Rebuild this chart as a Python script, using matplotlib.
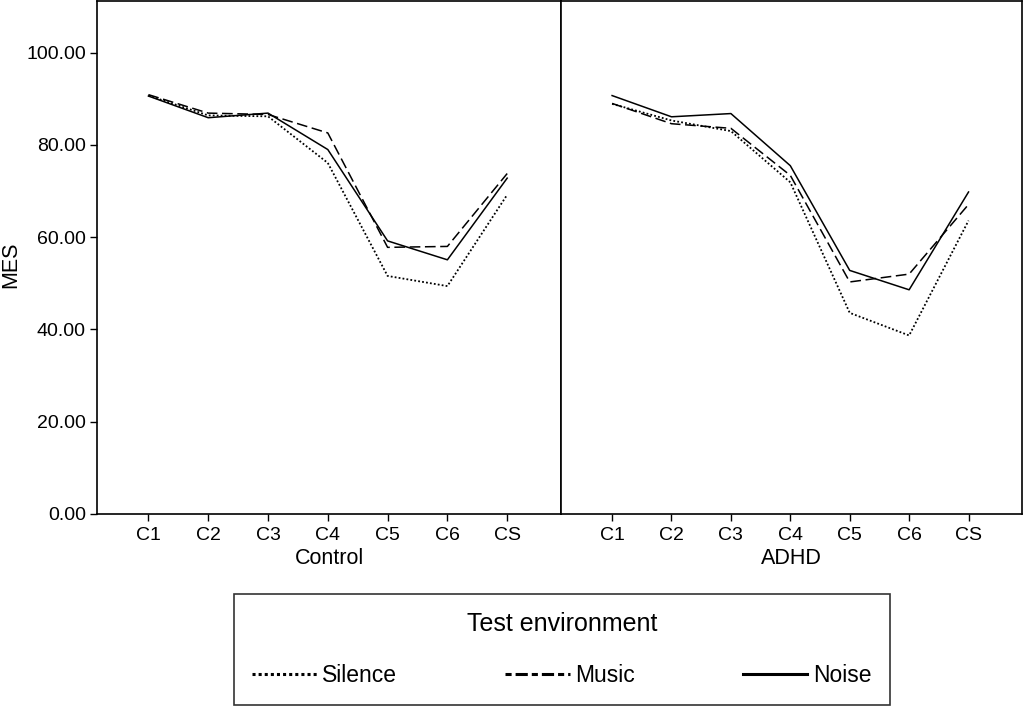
import matplotlib.pyplot as plt
import numpy as np

plt.rcParams['font.family'] = ['Liberation Sans', 'DejaVu Sans']

conditions = ['C1', 'C2', 'C3', 'C4', 'C5', 'C6', 'CS']
groups = ['Control', 'ADHD']

# MES per condition, per group
silence = {
    'Control': [90.7, 86.4, 86.2, 76.1, 51.6, 49.4, 69.2],
    'ADHD': [88.9, 85.3, 83.0, 71.9, 43.6, 38.7, 63.6],
}
music = {
    'Control': [90.9, 86.9, 86.6, 82.6, 57.8, 58.0, 73.8],
    'ADHD': [89.0, 84.6, 83.6, 73.4, 50.3, 52.0, 67.1],
}
noise = {
    'Control': [90.6, 85.9, 86.9, 79.0, 59.2, 55.1, 72.8],
    'ADHD': [90.7, 86.1, 86.8, 75.5, 52.8, 48.6, 69.8],
}

fig = plt.figure(figsize=(10.24, 7.08), dpi=100)
ax_l = fig.add_axes([97 / 1024, 1 - 514 / 708, 464 / 1024, 513 / 708])
ax_r = fig.add_axes([561 / 1024, 1 - 514 / 708, 461 / 1024, 513 / 708], sharey=ax_l)

x = np.arange(1, len(conditions) + 1)
handles = None
for ax, g in zip([ax_l, ax_r], groups):
    h1, = ax.plot(x, silence[g], color='black', lw=1.3, linestyle=(0, (1, 1.2)), label='Silence')
    h2, = ax.plot(x, music[g], color='black', lw=1.1, linestyle=(0, (7, 3)), label='Music')
    h3, = ax.plot(x, noise[g], color='black', lw=1.1, linestyle='-', label='Noise')
    handles = [h1, h2, h3]
    ax.set_xlim(0.14, 7.9)
    ax.set_xticks(x)
    ax.set_xticklabels(conditions, fontsize=14)
    ax.set_xlabel(g, fontsize=15.5, labelpad=3)
    ax.tick_params(axis='x', direction='out', length=5, width=1, pad=4)
    for s in ax.spines.values():
        s.set_linewidth(1.2)

ax_l.set_ylim(0, 111.2)
ax_l.set_yticks(np.arange(0, 101, 20))
ax_l.set_yticklabels(['%.2f' % v for v in np.arange(0, 101, 20)], fontsize=14)
ax_l.tick_params(axis='y', direction='out', length=5, width=1, pad=3)
ax_l.set_ylabel('MES', fontsize=15.5)
ax_l.yaxis.set_label_coords(-0.163, 0.485)
ax_r.tick_params(axis='y', left=False, labelleft=False)

leg = fig.legend(handles=handles, loc='lower left', ncol=3, mode='expand',
                 bbox_to_anchor=(234 / 1024, 3 / 708, 656 / 1024, 115 / 708),
                 borderaxespad=0,
                 title='Test environment', title_fontsize=18, fontsize=16.5,
                 frameon=True, fancybox=False, edgecolor='black',
                 handlelength=2.8, handletextpad=0.25, borderpad=0.8,
                 labelspacing=0.5)
leg.get_frame().set_linewidth(1.2)
leg._legend_box.sep = 20
for ln, ls in zip(leg.get_lines(), [(0, (1, 1)), (0, (2, 1.3, 4, 1.3)), '-']):
    ln.set_linewidth(2.2)
    ln.set_linestyle(ls)

fig.savefig('out.png', dpi=100)
